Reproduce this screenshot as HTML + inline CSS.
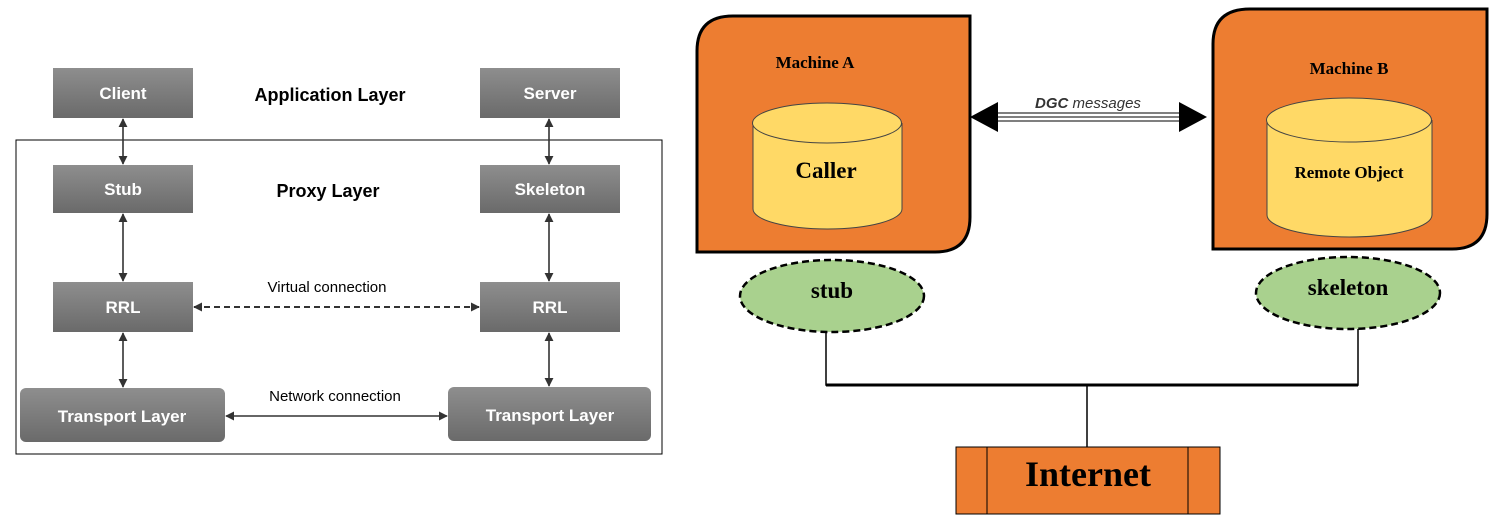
<!DOCTYPE html>
<html><head><style>
body{margin:0;background:#fff;width:1493px;height:524px;overflow:hidden}
</style></head><body>
<svg width="1493" height="524" viewBox="0 0 1493 524" xmlns="http://www.w3.org/2000/svg">
<defs>
<linearGradient id="g" x1="0" y1="0" x2="0" y2="1"><stop offset="0" stop-color="#8e8e8e"/><stop offset="1" stop-color="#6a6a6a"/></linearGradient>
<marker id="ah" viewBox="0 0 10 10" refX="9" refY="5" markerWidth="9" markerHeight="9" markerUnits="userSpaceOnUse" orient="auto-start-reverse"><path d="M0,0L10,5L0,10z" fill="#333"/></marker>
</defs>
<g font-family="Liberation Sans, sans-serif" font-weight="bold">
<rect x="16" y="140" width="646" height="314" fill="none" stroke="#000" stroke-width="1"/>
<rect x="53" y="68" width="140" height="50" fill="url(#g)"/>
<rect x="480" y="68" width="140" height="50" fill="url(#g)"/>
<rect x="53" y="165" width="140" height="48" fill="url(#g)"/>
<rect x="480" y="165" width="140" height="48" fill="url(#g)"/>
<rect x="53" y="282" width="140" height="50" fill="url(#g)"/>
<rect x="480" y="282" width="140" height="50" fill="url(#g)"/>
<rect x="20" y="388" width="205" height="54" rx="6" fill="url(#g)"/>
<rect x="448" y="387" width="203" height="54" rx="6" fill="url(#g)"/>
<g fill="#fff" font-size="17" text-anchor="middle">
<text x="123" y="99">Client</text><text x="550" y="99">Server</text>
<text x="123" y="195">Stub</text><text x="550" y="195">Skeleton</text>
<text x="123" y="313">RRL</text><text x="550" y="313">RRL</text>
<text x="122" y="422">Transport Layer</text><text x="550" y="421">Transport Layer</text>
</g>
<g fill="#000" text-anchor="middle">
<text x="330" y="101" font-size="18">Application Layer</text>
<text x="328" y="197" font-size="18">Proxy Layer</text>
<text x="327" y="292" font-size="15" font-weight="normal">Virtual connection</text>
<text x="335" y="401" font-size="15" font-weight="normal">Network connection</text>
</g>
<g stroke="#333" stroke-width="1.6" marker-start="url(#ah)" marker-end="url(#ah)">
<line x1="123" y1="119" x2="123" y2="164"/><line x1="549" y1="119" x2="549" y2="164"/>
<line x1="123" y1="214" x2="123" y2="281"/><line x1="549" y1="214" x2="549" y2="281"/>
<line x1="123" y1="333" x2="123" y2="387"/><line x1="549" y1="333" x2="549" y2="386"/>
<line x1="194" y1="307" x2="479" y2="307" stroke-dasharray="6,4" stroke-width="2"/>
<line x1="226" y1="416" x2="447" y2="416"/>
</g>
</g>
<g font-family="Liberation Serif, serif" font-weight="bold">
<path d="M733,16H970V217Q970,252 935,252H697V51Q697,16 733,16Z" fill="#ed7d31" stroke="#000" stroke-width="3"/>
<path d="M1250,9H1487V214Q1487,249 1452,249H1213V44Q1213,9 1250,9Z" fill="#ed7d31" stroke="#000" stroke-width="3"/>
<text x="815" y="68" font-size="17" text-anchor="middle">Machine A</text>
<text x="1349" y="74" font-size="17" text-anchor="middle">Machine B</text>
<path d="M753,123V209A74.5,20 0 0 0 902,209V123" fill="#ffd966" stroke="#444"/>
<ellipse cx="827" cy="123" rx="74.5" ry="20" fill="#ffd966" stroke="#444"/>
<path d="M1267,120V215A82.5,22 0 0 0 1432,215V120" fill="#ffd966" stroke="#444"/>
<ellipse cx="1349" cy="120" rx="82.5" ry="22" fill="#ffd966" stroke="#444"/>
<text x="826" y="178" font-size="23" text-anchor="middle">Caller</text>
<text x="1349" y="178" font-size="17" text-anchor="middle">Remote Object</text>
<g stroke="#555" stroke-width="1.5"><line x1="995" y1="113" x2="1185" y2="113"/><line x1="995" y1="117" x2="1185" y2="117"/><line x1="995" y1="121" x2="1185" y2="121"/></g>
<path d="M970,117L998,102V132Z M1207,117L1179,102V132Z" fill="#000"/>
<text x="1088" y="108" font-family="Liberation Sans, sans-serif" font-size="15" font-style="italic" font-weight="normal" text-anchor="middle" fill="#333"><tspan font-weight="bold">DGC</tspan> messages</text>
<ellipse cx="832" cy="296" rx="92" ry="36" fill="#a9d18e" stroke="#000" stroke-width="2.5" stroke-dasharray="7,4"/>
<ellipse cx="1348" cy="293" rx="92" ry="36" fill="#a9d18e" stroke="#000" stroke-width="2.5" stroke-dasharray="7,4"/>
<text x="832" y="298" font-size="23" text-anchor="middle">stub</text>
<text x="1348" y="295" font-size="23" text-anchor="middle">skeleton</text>
<g stroke="#000" fill="none"><path d="M826,332V385H1358V329" stroke-width="1.5"/><line x1="826" y1="385" x2="1358" y2="385" stroke-width="3"/><line x1="1087" y1="385" x2="1087" y2="447" stroke-width="1.5"/></g>
<rect x="956" y="447" width="264" height="67" fill="#ed7d31" stroke="#000" stroke-width="1"/>
<line x1="987" y1="447" x2="987" y2="514" stroke="#000"/><line x1="1188" y1="447" x2="1188" y2="514" stroke="#000"/>
<text x="1088" y="486" font-size="36" text-anchor="middle">Internet</text>
</g>
</svg>
</body></html>
